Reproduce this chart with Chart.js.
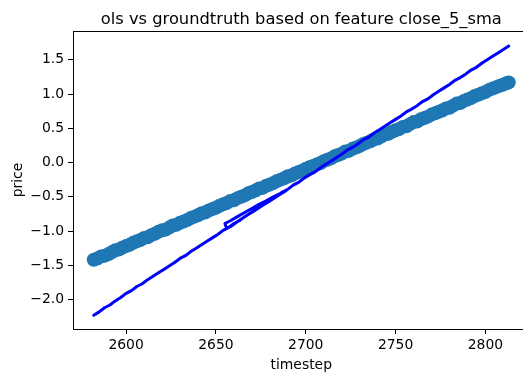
<!DOCTYPE html>
<html>
<head>
<meta charset="utf-8">
<script src="https://cdn.jsdelivr.net/npm/chart.js@4.4.1/dist/chart.umd.min.js"></script>
<style>
  html, body { margin: 0; padding: 0; background: #fff; overflow: hidden; width: 523px; height: 376px; }
  canvas { display: block; }
</style>
</head>
<body>
<canvas id="c" width="540" height="376"></canvas>
<script>
// ---- data ----
const titleText = 'ols vs groundtruth based on feature close_5_sma';
const xTitle = 'timestep';
const yTitle = 'price';
const xTicks = [2600, 2650, 2700, 2750, 2800];
const yTicks = [-2.0, -1.5, -1.0, -0.5, 0.0, 0.5, 1.0, 1.5];

// OLS predictions (scatter)
const predSteps = [2582,2584,2586,2588,2590,2592,2594,2596,2598,2600,
  2602,2604,2606,2608,2610,2612,2614,2616,2618,2620,
  2622,2624,2626,2628,2630,2632,2634,2636,2638,2640,
  2642,2644,2646,2648,2650,2652,2654,2656,2658,2660,
  2662,2664,2666,2668,2670,2672,2674,2676,2678,2680,
  2682,2684,2686,2688,2690,2692,2694,2696,2698,2700,
  2702,2704,2706,2708,2710,2712,2714,2716,2718,2720,
  2722,2724,2726,2728,2730,2732,2734,2736,2738,2740,
  2742,2744,2746,2748,2750,2752,2754,2756,2758,2760,
  2762,2764,2766,2768,2770,2772,2774,2776,2778,2780,
  2782,2784,2786,2788,2790,2792,2794,2796,2798,2800,
  2802,2804,2806,2808,2810,2812,2813];
const predPrice = [-1.42,-1.40,-1.37,-1.36,-1.34,-1.31,-1.28,-1.27,-1.24,-1.22,
  -1.20,-1.17,-1.15,-1.13,-1.10,-1.09,-1.06,-1.04,-1.01,-0.99,
  -0.98,-0.95,-0.92,-0.91,-0.88,-0.86,-0.84,-0.81,-0.79,-0.77,
  -0.74,-0.73,-0.70,-0.68,-0.66,-0.63,-0.61,-0.59,-0.56,-0.55,
  -0.52,-0.50,-0.48,-0.45,-0.43,-0.41,-0.38,-0.37,-0.34,-0.32,
  -0.30,-0.27,-0.25,-0.23,-0.20,-0.19,-0.16,-0.14,-0.12,-0.09,
  -0.07,-0.05,-0.03,-0.01,0.02,0.04,0.06,0.09,0.11,0.13,
  0.16,0.17,0.20,0.22,0.24,0.27,0.29,0.31,0.34,0.35,
  0.38,0.41,0.42,0.45,0.47,0.49,0.52,0.53,0.56,0.59,
  0.60,0.63,0.65,0.67,0.70,0.72,0.74,0.76,0.79,0.80,
  0.83,0.86,0.87,0.90,0.92,0.94,0.97,0.99,1.01,1.03,
  1.06,1.08,1.10,1.12,1.14,1.16,1.17];

// Ground truth (line, drawn in record order; it doubles back near 2655-2690)
const truthSteps = [2582,2585,2588,2591,2594,2597,2600,2603,2606,2609,
  2612,2615,2618,2621,2624,2627,2630,2633,2636,2639,
  2642,2645,2648,2651,2654,2657,2660,2663,2666,2669,
  2672,2675,2678,2681,2684,2687,2690,
  2686,2682,2678,2674,2670,2666,2662,2658,2655,
  2656,2659,2662,2665,2668,2671,2674,2677,2680,2683,2686,2689,
  2693,2696,2699,2702,2705,2708,2711,2714,2717,2720,
  2723,2726,2729,2732,2735,2738,2741,2744,2747,2750,
  2753,2756,2759,2762,2765,2768,2771,2774,2777,2780,
  2783,2786,2789,2792,2795,2798,2801,2804,2807,2810,2813];
const truthPrice = [-2.23,-2.18,-2.12,-2.08,-2.02,-1.97,-1.91,-1.87,-1.81,-1.77,
  -1.71,-1.66,-1.61,-1.56,-1.51,-1.46,-1.40,-1.36,-1.30,-1.25,
  -1.20,-1.15,-1.10,-1.05,-0.99,-0.95,-0.89,-0.85,-0.79,-0.74,
  -0.69,-0.64,-0.59,-0.54,-0.49,-0.43,-0.39,
  -0.45,-0.50,-0.56,-0.61,-0.67,-0.73,-0.79,-0.85,-0.89,
  -0.96,-0.92,-0.86,-0.81,-0.76,-0.71,-0.66,-0.61,-0.56,-0.51,-0.46,-0.41,
  -0.33,-0.29,-0.23,-0.18,-0.14,-0.08,-0.03,0.02,0.07,0.12,
  0.18,0.22,0.27,0.33,0.37,0.43,0.48,0.53,0.58,0.63,
  0.68,0.74,0.78,0.83,0.89,0.93,0.99,1.04,1.09,1.14,
  1.20,1.24,1.29,1.35,1.39,1.45,1.50,1.55,1.60,1.65,1.70];

// ---- chart ----
const FONT = "'DejaVu Sans', sans-serif";
const predPoints = predSteps.map((x, i) => ({ x: x, y: predPrice[i] }));
const truthPoints = truthSteps.map((x, i) => ({ x: x, y: truthPrice[i] }));

const framePlugin = {
  id: 'frame',
  afterDatasetsDraw(chart) {
    const a = chart.chartArea, ctx = chart.ctx;
    ctx.save();
    ctx.strokeStyle = '#000';
    ctx.lineWidth = 1;
    ctx.strokeRect(Math.round(a.left) + 0.5, Math.round(a.top) + 0.5,
      Math.round(a.right - a.left), Math.round(a.bottom - a.top));
    ctx.restore();
  }
};

const titlePlugin = {
  id: 'axTitle',
  afterDraw(chart) {
    const a = chart.chartArea, ctx = chart.ctx;
    ctx.save();
    ctx.fillStyle = '#000';
    ctx.font = "16.3px 'DejaVu Sans', sans-serif";
    ctx.textAlign = 'center';
    ctx.textBaseline = 'alphabetic';
    ctx.fillText(titleText, (a.left + a.right) / 2, 23.5);
    ctx.restore();
  }
};

const fmtY = v => (v < 0 ? '\u2212' : '') + Math.abs(v).toFixed(1);

new Chart(document.getElementById('c'), {
  type: 'scatter',
  data: {
    datasets: [
      {
        label: 'groundtruth',
        data: truthPoints,
        showLine: true,
        borderColor: '#0000ff',
        backgroundColor: '#0000ff',
        borderWidth: 3,
        pointRadius: 0,
        pointHoverRadius: 0,
        tension: 0,
        borderJoinStyle: 'round',
        borderCapStyle: 'round',
        order: 0
      },
      {
        label: 'ols',
        data: predPoints,
        showLine: false,
        backgroundColor: '#1f77b4',
        borderColor: '#1f77b4',
        borderWidth: 0,
        pointRadius: 7,
        pointHoverRadius: 7,
        order: 1
      }
    ]
  },
  options: {
    responsive: false,
    animation: false,
    devicePixelRatio: 1,
    layout: { padding: { left: 0, right: 10.5, top: 31, bottom: 0 } },
    plugins: {
      legend: { display: false },
      tooltip: { enabled: false },
      title: { display: false }
    },
    scales: {
      x: {
        type: 'linear',
        min: 2570.45,
        max: 2824.55,
        afterFit(s) { s.height = 47; },
        afterBuildTicks(s) { s.ticks = xTicks.map(v => ({ value: v })); },
        ticks: {
          color: '#000',
          font: { family: FONT, size: 13.9 },
          padding: 3,
          maxRotation: 0,
          callback: v => String(v)
        },
        grid: { display: true, drawOnChartArea: false, drawTicks: true, tickLength: 5, color: '#000', lineWidth: 1 },
        border: { display: false },
        title: { display: true, text: xTitle, color: '#000', font: { family: FONT, size: 13.9 }, padding: { top: 0, bottom: 2 } }
      },
      y: {
        type: 'linear',
        min: -2.43,
        max: 1.92,
        afterFit(s) { s.width = 73; },
        afterBuildTicks(s) { s.ticks = yTicks.map(v => ({ value: v })); },
        ticks: {
          color: '#000',
          font: { family: FONT, size: 13.9 },
          padding: 4,
          callback: v => fmtY(v)
        },
        grid: { display: true, drawOnChartArea: false, drawTicks: true, tickLength: 5, color: '#000', lineWidth: 1 },
        border: { display: false },
        title: { display: true, text: yTitle, color: '#000', font: { family: FONT, size: 13.9 }, padding: { top: 10, bottom: 0 } }
      }
    }
  },
  plugins: [framePlugin, titlePlugin]
});
</script>
</body>
</html>
